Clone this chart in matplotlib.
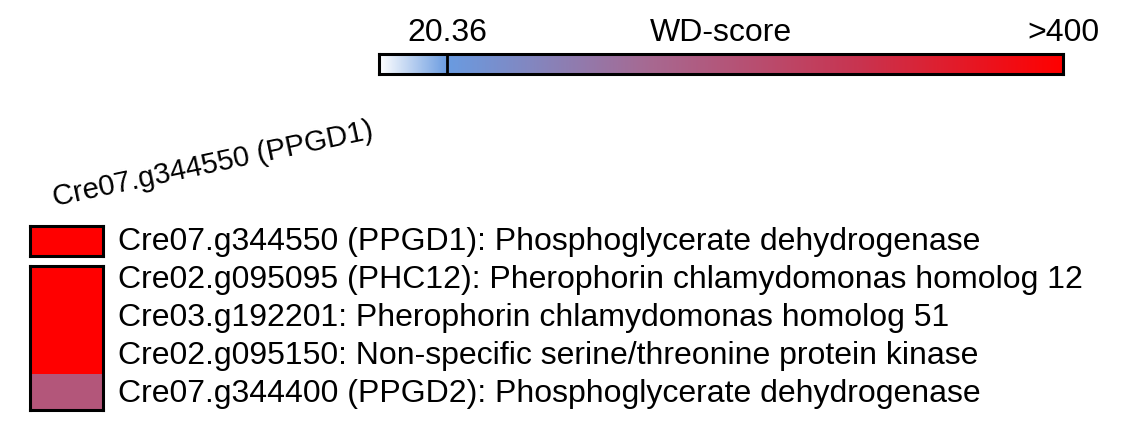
import matplotlib
matplotlib.use("Agg")
import matplotlib.pyplot as plt
import numpy as np
from matplotlib.colors import LinearSegmentedColormap
from matplotlib.patches import Rectangle

plt.rcParams['font.family'] = ['Liberation Sans', 'DejaVu Sans']

column_label = "Cre07.g344550 (PPGD1)"
group1_labels = ["Cre07.g344550 (PPGD1): Phosphoglycerate dehydrogenase"]
group2_labels = ["Cre02.g095095 (PHC12): Pherophorin chlamydomonas homolog 12",
                 "Cre03.g192201: Pherophorin chlamydomonas homolog 51",
                 "Cre02.g095150: Non-specific serine/threonine protein kinase",
                 "Cre07.g344400 (PPGD2): Phosphoglycerate dehydrogenase"]
group1_scores = [400]
group2_scores = [400, 400, 400, 190]
cbar_min, cbar_thresh, cbar_max = 0, 20.36, 400
thresh_frac = 0.1  # position of threshold along the colorbar

W, H = 1139, 434
fig = plt.figure(figsize=(W/100, H/100), dpi=100)

cmap_lo = LinearSegmentedColormap.from_list("lo", ["#ffffff", "#6a9be0"])
cmap_hi = LinearSegmentedColormap.from_list("hi", ["#6a9be0", "#a86890", "#c83450", "#ff0000"])
def pos(v):
    v = min(max(v, cbar_min), cbar_max)
    if v <= cbar_thresh:
        return thresh_frac * v / cbar_thresh
    return thresh_frac + (1 - thresh_frac) * (v - cbar_thresh) / (cbar_max - cbar_thresh)
def color(v):
    p = pos(v)
    if p <= thresh_frac:
        return cmap_lo(p / thresh_frac)
    return cmap_hi((p - thresh_frac) / (1 - thresh_frac))

def ax_at(x0, y0, x1, y1):
    return fig.add_axes([x0/W, 1-y1/H, (x1-x0)/W, (y1-y0)/H])

cax = ax_at(379, 54, 1063, 74)
ps = np.linspace(0, 1, 800)
vals = np.where(ps <= thresh_frac, ps / thresh_frac * cbar_thresh,
                cbar_thresh + (ps - thresh_frac) / (1 - thresh_frac) * (cbar_max - cbar_thresh))
img = np.array([[color(v) for v in vals]])
cax.imshow(img, aspect='auto', extent=[0, 1, 0, 1])
cax.axvline(pos(cbar_thresh), color='black', lw=2)
cax.set_xlim(0, 1)
cax.set_xticks([]); cax.set_yticks([])
for s in cax.spines.values(): s.set_linewidth(2.2)
fig.text(447/W, 1-33/H, "20.36", ha='center', va='center', fontsize=23)
fig.text(721/W, 1-33/H, "WD-score", ha='center', va='center', fontsize=23)
fig.text(1063/W, 1-33/H, ">400", ha='center', va='center', fontsize=23)

def heat(ax, scores):
    n = len(scores)
    for i, v in enumerate(scores):
        ax.add_patch(Rectangle((0, n-1-i), 1, 1, color=color(v), lw=0))
    ax.set_xlim(0, 1); ax.set_ylim(0, n)
    ax.set_xticks([]); ax.set_yticks([])
    for s in ax.spines.values(): s.set_linewidth(2.2)

heat(ax_at(30, 226, 103, 256), group1_scores)
heat(ax_at(30, 266, 103, 410), group2_scores)

ys = [242, 280, 318, 356, 394]
for y, lab in zip(ys, group1_labels + group2_labels):
    fig.text(118/W, 1-y/H, lab, ha='left', va='center', fontsize=23)

fig.text(56/W, 1-212/H, column_label, ha='left', va='bottom', fontsize=21, rotation=12,
         rotation_mode='anchor')

fig.savefig("out.png", dpi=100)
